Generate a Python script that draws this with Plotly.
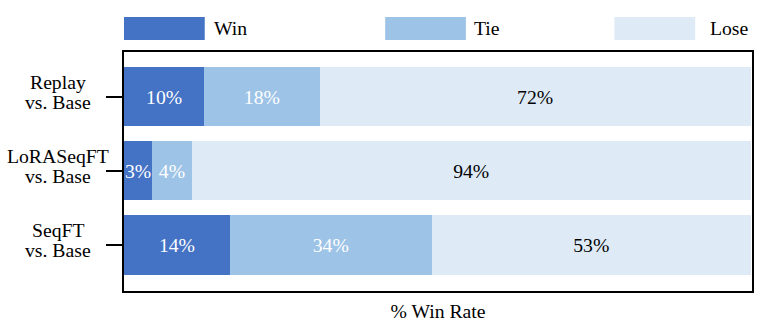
import plotly.graph_objects as go

# ---- data ----
categories = ["Replay vs. Base", "LoRASeqFT vs. Base", "SeqFT vs. Base"]
label_line1 = ["Replay", "LoRASeqFT", "SeqFT"]
label_line2 = ["vs. Base", "vs. Base", "vs. Base"]
series_names = ["Win", "Tie", "Lose"]
win = [12.8, 4.5, 16.9]
tie = [18.4, 6.3, 32.2]
lose = [68.8, 89.2, 50.9]
win_text = ["10%", "3%", "14%"]
tie_text = ["18%", "4%", "34%"]
lose_text = ["72%", "94%", "53%"]

# ---- style ----
W, H = 761, 335
L, R, T, B = 124, 7, 52, 44
PW, PH = W - L - R, H - T - B
FONT = "Liberation Serif, Times New Roman, serif"
FS = 19.7
colors = ["#4472C4", "#9DC3E6", "#DEEBF7"]
text_colors = ["white", "white", "black"]


def px_x(px):
    return (px - L) / PW


def px_y(py):
    return (H - B - py) / PH


fig = go.Figure()
for name, vals, txt, col, tcol in zip(series_names, [win, tie, lose],
                                      [win_text, tie_text, lose_text],
                                      colors, text_colors):
    fig.add_trace(go.Bar(
        y=categories, x=vals, orientation="h", name=name,
        marker=dict(color=col, line=dict(width=0)),
        text=txt, textposition="inside", insidetextanchor="middle",
        textangle=0, constraintext="none",
        textfont=dict(family=FONT, size=FS, color=tcol),
        showlegend=False, hoverinfo="skip",
    ))

shapes = []
annotations = []
# manual legend (wide swatches)
legend_rects = [(124, 205, 212), (386, 467, 473), (616, 697, 710)]
for (x0, x1, tx), name, col in zip(legend_rects, series_names, colors):
    shapes.append(dict(type="rect", xref="paper", yref="paper",
                       x0=px_x(x0), x1=px_x(x1), y0=px_y(40), y1=px_y(17),
                       fillcolor=col, line=dict(width=0)))
    annotations.append(dict(text=name, xref="paper", yref="paper",
                            x=px_x(tx), y=px_y(28.5), xanchor="left",
                            yanchor="middle", showarrow=False,
                            font=dict(family=FONT, size=FS, color="black")))

# y category labels (centered two-line)
for cat, l1, l2 in zip(categories, label_line1, label_line2):
    for txt, ys in ((l1, 15), (l2, -5.5)):
        annotations.append(dict(text=txt, xref="paper", yref="y",
                                x=px_x(58), y=cat, xanchor="center",
                                yanchor="middle", yshift=ys,
                                showarrow=False,
                                font=dict(family=FONT, size=FS, color="black")))

fig.update_layout(
    width=W, height=H,
    margin=dict(l=L, r=R, t=T, b=B),
    barmode="stack", bargap=0.2,
    plot_bgcolor="white", paper_bgcolor="white",
    font=dict(family=FONT, size=FS, color="black"),
    shapes=shapes, annotations=annotations,
)
fig.update_xaxes(
    range=[0, 100.2], showgrid=False, zeroline=False,
    showticklabels=False, ticks="",
    showline=True, mirror=True, linewidth=2, linecolor="black",
    title=dict(text="% Win Rate", standoff=12,
               font=dict(family=FONT, size=FS, color="black")),
)
fig.update_yaxes(
    type="category", categoryorder="array", categoryarray=categories,
    range=[2.62, -0.6], showgrid=False, zeroline=False,
    showticklabels=False, ticks="outside", ticklen=16, tickwidth=2,
    tickcolor="black",
    showline=True, mirror=True, linewidth=2, linecolor="black",
)

fig.write_html(
    "out.html",
    config={"displayModeBar": False},
    post_script="document.body.style.margin='0';"
                "document.body.style.overflow='hidden';",
)
